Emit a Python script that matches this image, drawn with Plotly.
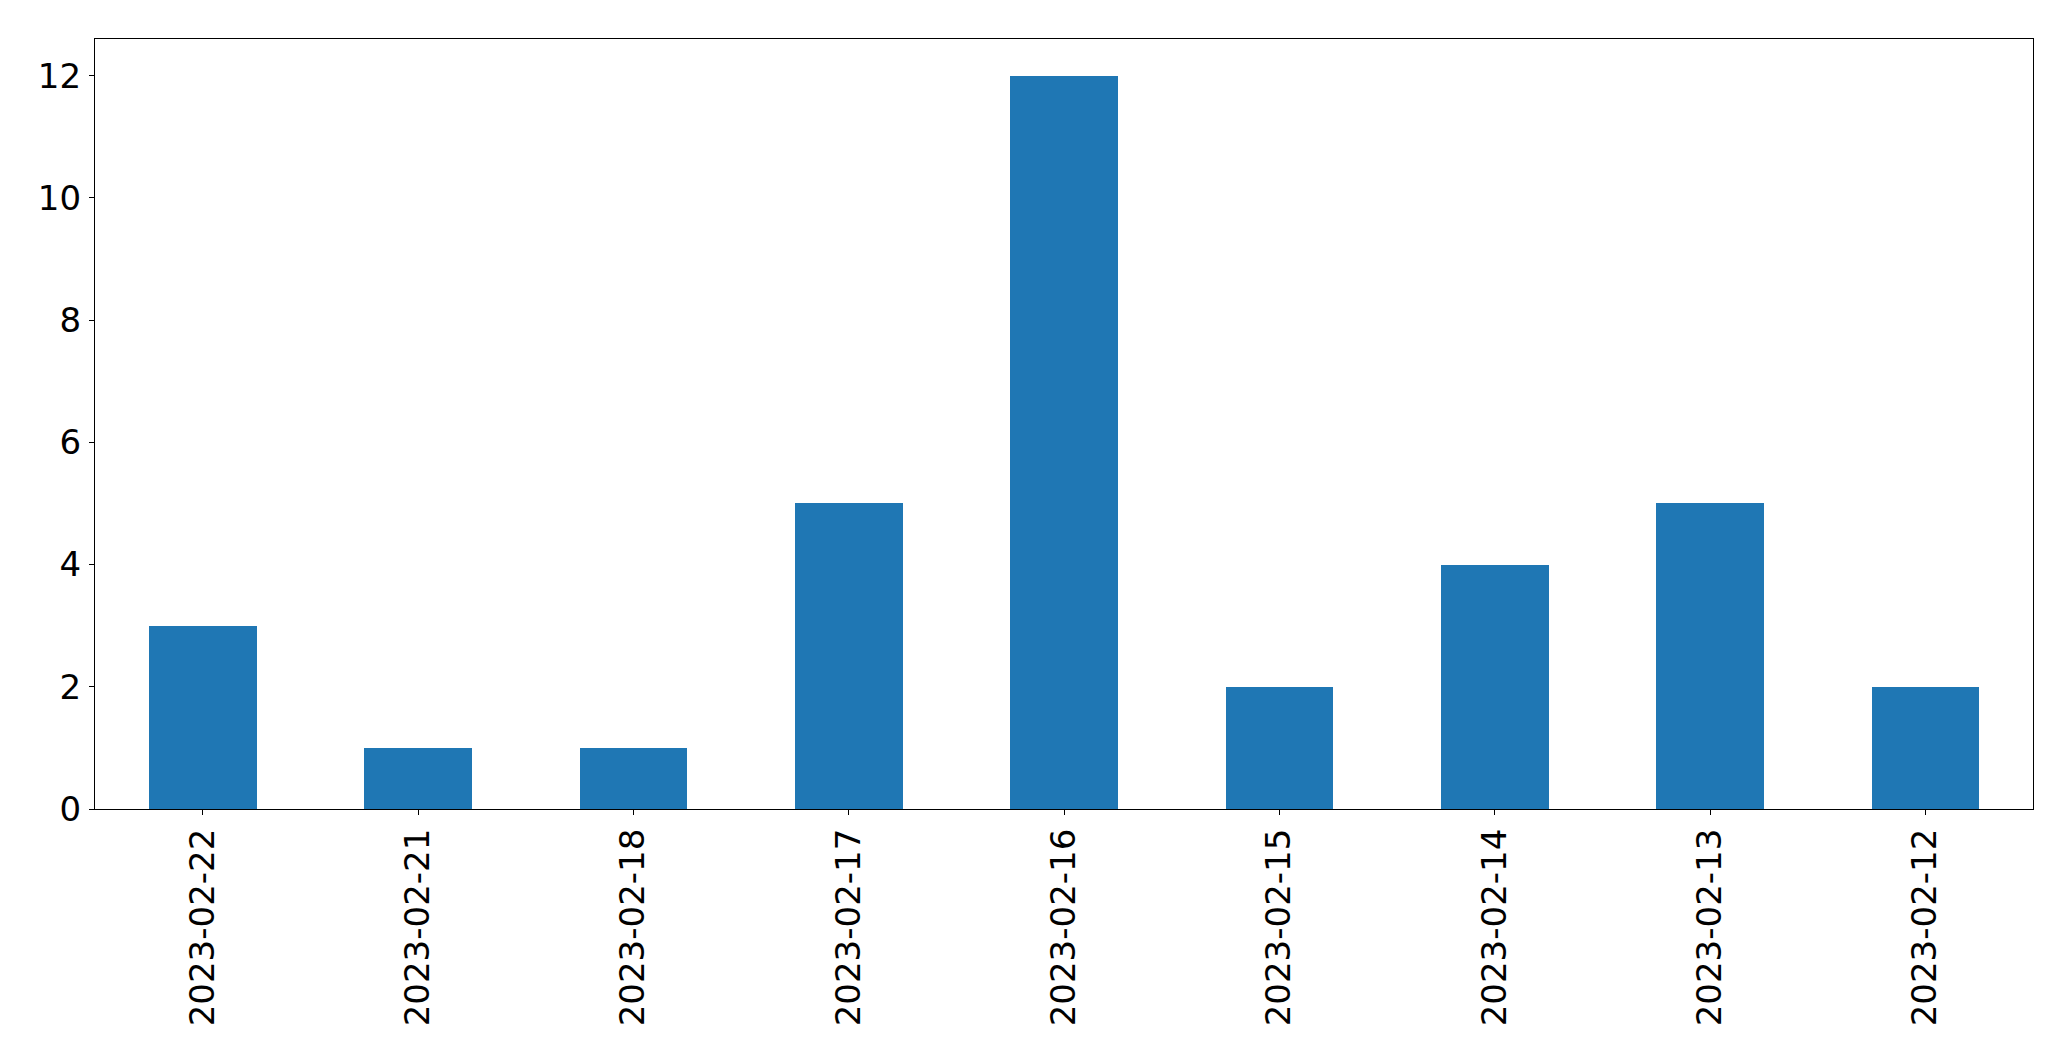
import plotly.graph_objects as go

dates = ["2023-02-22", "2023-02-21", "2023-02-18", "2023-02-17", "2023-02-16",
         "2023-02-15", "2023-02-14", "2023-02-13", "2023-02-12"]
counts = [3, 1, 1, 5, 12, 2, 4, 5, 2]
y_ticks = [0, 2, 4, 6, 8, 10, 12]

fig = go.Figure(go.Bar(x=list(range(len(dates))), y=counts, width=0.5,
                       marker=dict(color="#1f77b4", line=dict(width=0))))

font = dict(family="DejaVu Sans", size=34, color="black")
fig.update_layout(
    width=2063, height=1053,
    margin=dict(l=86.5, r=38.3, t=31.3, b=252, autoexpand=False),
    paper_bgcolor="white", plot_bgcolor="white",
    showlegend=False, bargap=0,
    font=font,
)
fig.update_xaxes(
    range=[-0.5, 8.5], tickmode="array", tickvals=list(range(len(dates))),
    ticktext=dates, tickangle=-90, ticks="outside", ticklen=5, tickwidth=1,
    tickcolor="black", showline=True, linecolor="black", linewidth=1.2,
    mirror=True, showgrid=False, zeroline=False, tickfont=font,
    ticklabelstandoff=0,
)
fig.update_yaxes(
    range=[0, 12.6], tickmode="array", tickvals=y_ticks,
    ticktext=[str(v) for v in y_ticks], ticks="outside", ticklen=5, tickwidth=1,
    tickcolor="black", showline=True, linecolor="black", linewidth=1.2,
    mirror=True, showgrid=False, zeroline=False, tickfont=font,
    ticklabelstandoff=1,
)
fig.write_html("out.html")
